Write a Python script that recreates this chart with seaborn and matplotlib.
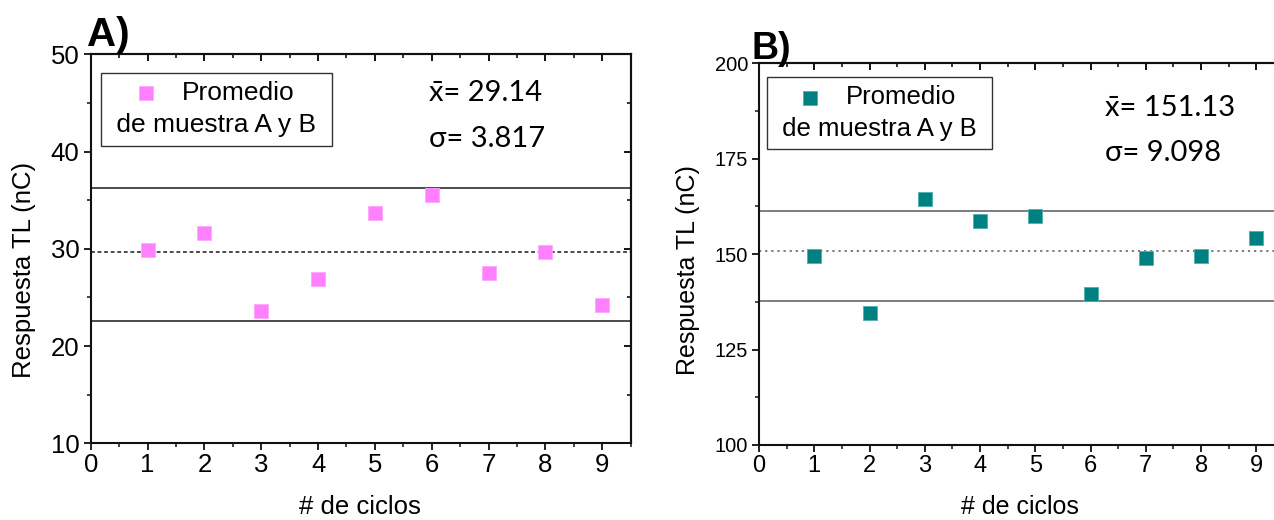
import matplotlib
matplotlib.use("Agg")
import matplotlib.pyplot as plt
from matplotlib.ticker import MultipleLocator
import seaborn as sns
import pandas as pd

# --- data -------------------------------------------------------------
ciclos = [1, 2, 3, 4, 5, 6, 7, 8, 9]
respuesta_a = [29.9, 31.6, 23.6, 26.9, 33.7, 35.5, 27.5, 29.7, 24.2]
respuesta_b = [149.5, 134.6, 164.4, 158.6, 160.1, 139.6, 148.9, 149.6, 154.3]

# reference levels: upper limit, centre, lower limit
niveles_a = [36.3, 29.65, 22.6]
niveles_b = [161.4, 150.9, 137.8]

# summary statistics printed on each panel
media_a, sigma_a = "29.14", "3.817"
media_b, sigma_b = "151.13", "9.098"

etiqueta_serie = "Promedio"
etiqueta_sub = "de muestra A y B"
xlabel = "# de ciclos"
ylabel = "Respuesta TL (nC)"

sns.set_style("ticks")
plt.rcParams["font.family"] = ["Liberation Sans", "DejaVu Sans"]
plt.rcParams["axes.linewidth"] = 1.5
for key in ("text.color", "axes.labelcolor", "xtick.color", "ytick.color"):
    plt.rcParams[key] = "black"

fig = plt.figure(figsize=(12.74, 5.2), dpi=100)
W, H = 1274, 520


def px_axes(left, top, right, bottom):
    return fig.add_axes([left / W, 1 - bottom / H, (right - left) / W, (bottom - top) / H])


def panel(ax, y, niveles, color, edge, line_col, ylim, ymajor, yminor,
          xtick_fs, ytick_fs, lab_fs, leg_fs, stat_fs, media, sigma,
          leg_anchor, stat_pos, ylab_pos, xlab_pos, dash):
    df = pd.DataFrame({"ciclo": ciclos, "resp": y})
    sns.scatterplot(data=df, x="ciclo", y="resp", ax=ax, marker="s", s=110,
                    color=color, edgecolor=edge, linewidth=0.6, zorder=3,
                    label=etiqueta_serie)
    ax.axhline(niveles[0], color=line_col, lw=1.1, zorder=2)
    ax.axhline(niveles[1], color=line_col, lw=1.1, ls=dash, zorder=2)
    ax.axhline(niveles[2], color=line_col, lw=1.1, zorder=2)

    ax.set_xlim(0, 9.5)
    ax.set_ylim(*ylim)
    ax.set_xticks(range(0, 10))
    ax.xaxis.set_minor_locator(MultipleLocator(0.5))
    ax.yaxis.set_major_locator(MultipleLocator(ymajor))
    ax.yaxis.set_minor_locator(MultipleLocator(yminor))
    for sp in ax.spines.values():
        sp.set_visible(True)
        sp.set_color("#111111")
    ax.tick_params(axis="both", which="major", direction="out", length=5, width=1.3,
                   color="#111111")
    ax.tick_params(axis="both", which="minor", direction="out", length=3, width=1.1,
                   color="#111111")
    ax.tick_params(axis="x", which="major", labelsize=xtick_fs, pad=2)
    ax.tick_params(axis="y", which="major", labelsize=ytick_fs, pad=3)

    # mirrored inward ticks on the top and right edges
    top = ax.secondary_xaxis("top")
    top.set_xticks(range(0, 10))
    top.xaxis.set_minor_locator(MultipleLocator(0.5))
    top.tick_params(which="major", direction="in", length=5, width=1.3, labeltop=False)
    top.tick_params(which="minor", direction="in", length=3, width=1.1)
    right = ax.secondary_yaxis("right")
    right.yaxis.set_major_locator(MultipleLocator(ymajor))
    right.yaxis.set_minor_locator(MultipleLocator(yminor))
    right.tick_params(which="major", direction="in", length=5, width=1.3, labelright=False)
    right.tick_params(which="minor", direction="in", length=3, width=1.1)

    ax.set_xlabel(xlabel, fontsize=lab_fs)
    ax.set_ylabel(ylabel, fontsize=lab_fs)
    ax.xaxis.set_label_coords(*xlab_pos)
    ax.yaxis.set_label_coords(*ylab_pos)

    leg = ax.legend(loc="upper left", bbox_to_anchor=leg_anchor, borderaxespad=0,
                    fontsize=leg_fs, title="\u00a0" + etiqueta_sub + "\u00a0",
                    title_fontsize=leg_fs,
                    frameon=True, fancybox=False, framealpha=1, edgecolor="#333333",
                    handlelength=0.53, handletextpad=1.1, borderpad=0.32,
                    labelspacing=0.3, markerscale=1.0)
    leg.get_frame().set_linewidth(1.0)
    # first line with the marker, then the second text line underneath
    kids = leg._legend_box._children
    leg._legend_box._children = [kids[1], kids[0]]

    stat_font = ["Lato", "DejaVu Sans"]
    ax.text(stat_pos[0], stat_pos[1], "x\u0304= " + media, transform=ax.transAxes,
            fontsize=stat_fs, family=stat_font, va="baseline", ha="left")
    ax.text(stat_pos[0], stat_pos[2], "\u03c3= " + sigma, transform=ax.transAxes,
            fontsize=stat_fs, family=stat_font, va="baseline", ha="left")


ax_a = px_axes(90.7, 54.3, 630.7, 443.3)
panel(ax_a, respuesta_a, niveles_a, "#ff80ff", "#ffa6ff", "#1a1a1a", (10, 50), 10, 5,
      18.5, 18.5, 18.5, 19, 21, media_a, sigma_a,
      leg_anchor=(0.019, 0.952), stat_pos=(0.627, 0.880, 0.762),
      ylab_pos=(-0.101, 0.445), xlab_pos=(0.499, -0.133), dash=(0, (2.5, 1.8)))

ax_b = px_axes(759, 63.3, 1284, 445)
panel(ax_b, respuesta_b, niveles_b, "#008080", "#4fb0b0", "#5a5a5a", (100, 200), 25, 12.5,
      17, 14.5, 18, 18.5, 21, media_b, sigma_b,
      leg_anchor=(0.0152, 0.964), stat_pos=(0.659, 0.862, 0.744),
      ylab_pos=(-0.112, 0.458), xlab_pos=(0.497, -0.13), dash=(0, (1.5, 2.5)))

fig.text(87 / W, 1 - 46 / H, "A)", fontsize=29, fontweight="bold", ha="left", va="baseline")
fig.text(752 / W, 1 - 59 / H, "B)", fontsize=27, fontweight="bold", ha="left", va="baseline")

fig.savefig("out.png", dpi=100)
